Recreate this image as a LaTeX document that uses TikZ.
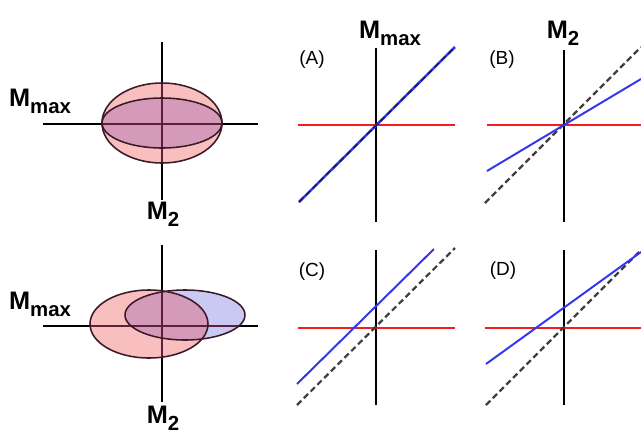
\documentclass[tikz,border=0pt]{standalone}
\usepackage{fontspec}
\setmainfont{Liberation Sans}
\usepackage{tikz}
\usetikzlibrary{positioning}
\definecolor{pinkFill}{HTML}{F9BEBE}
\definecolor{blueFill}{HTML}{C9C9F3}
\definecolor{mauveFill}{HTML}{D59AB9}
\definecolor{axisIn}{HTML}{5E1F3A}
\definecolor{ringStroke}{HTML}{3A1A26}
\definecolor{redLine}{HTML}{F01E1E}
\definecolor{blueLine}{HTML}{3535EE}
\definecolor{navyDash}{HTML}{1A1A5A}
\newcommand{\Msub}[1]{M\raisebox{-5pt}{\fontsize{14.5}{14.5}\selectfont #1}}
\tikzset{
  axis line/.style={black, line width=1.4pt},
  axis inner/.style={axisIn, line width=1.4pt},
  ring/.style={ringStroke, line width=1.1pt},
  red line/.style={redLine, line width=1.4pt},
  blue line/.style={blueLine, line width=1.4pt},
  ref line/.style={black!75, line width=1.6pt, dash pattern=on 4.3pt off 2.5pt},
  axis label/.style={font=\fontsize{18}{18}\selectfont\bfseries, inner sep=0pt},
  panel label/.style={font=\fontsize{13.5}{13.5}\selectfont, inner sep=0pt}
}
\begin{document}
\begin{tikzpicture}[x=0.025cm, y=-0.025cm]
    \useasboundingbox (0,0) rectangle (641,442);

    % Ellipses, top
    \fill[pinkFill] (162,123) ellipse [x radius=60, y radius=40];
    \fill[mauveFill] (162,123) ellipse [x radius=60, y radius=25];
    \draw[axis line] (162,42) -- (162,200);
    \draw[axis line] (43,124) -- (258,124);
    \begin{scope}
      \clip (162,123) ellipse [x radius=60, y radius=40];
      \draw[axis inner] (162,42) -- (162,200);
      \draw[axis inner] (43,124) -- (258,124);
    \end{scope}
    \draw[ring] (162,123) ellipse [x radius=60, y radius=40];
    \draw[ring] (162,123) ellipse [x radius=60, y radius=25];
    \node[axis label] (mmaxA) at (40,101) {\Msub{max}};
    \node[axis label] (m2A) at (163,214) {\Msub{2}};

    % Ellipses, bottom
    \fill[pinkFill] (149,324) ellipse [x radius=59, y radius=34];
    \fill[blueFill] (185,315) ellipse [x radius=60, y radius=25];
    \begin{scope}
      \clip (149,324) ellipse [x radius=59, y radius=34];
      \fill[mauveFill] (185,315) ellipse [x radius=60, y radius=25];
    \end{scope}
    \draw[axis line] (162,245) -- (162,402);
    \draw[axis line] (43,326) -- (258,326);
    \begin{scope}
      \clip (149,324) ellipse [x radius=59, y radius=34];
      \draw[axis inner] (162,245) -- (162,402);
      \draw[axis inner] (43,326) -- (258,326);
    \end{scope}
    \begin{scope}
      \clip (185,315) ellipse [x radius=60, y radius=25];
      \draw[axis inner] (162,245) -- (162,402);
      \draw[axis inner] (43,326) -- (258,326);
    \end{scope}
    \draw[ring] (149,324) ellipse [x radius=59, y radius=34];
    \draw[ring] (185,315) ellipse [x radius=60, y radius=25];
    \node[axis label] (mmaxB) at (40,304) {\Msub{max}};
    \node[axis label] (m2B) at (163,418) {\Msub{2}};

    % Headers
    \node[axis label] (hmax) at (390,33) {\Msub{max}};
    \node[axis label] (h2) at (563,33) {\Msub{2}};

    % (A)
    \node[panel label] (pa) at (312,60) {(A)};
    \draw[axis line] (376,48) -- (376,222);
    \draw[red line] (298,125) -- (455,125);
    \draw[blue line, line width=1.8pt] (299,202) -- (455,47);
    \draw[ref line, navyDash, line width=1pt] (299,202) -- (455,47);

    % (B)
    \node[panel label] (pb) at (502,60) {(B)};
    \draw[axis line] (564,50) -- (564,222);
    \draw[red line] (487,125) -- (641,125);
    \draw[ref line] (485,203) -- (641,47);
    \draw[blue line] (487,171) -- (641,79);

    % (C)
    \node[panel label] (pc) at (312,272) {(C)};
    \draw[axis line] (376,250) -- (376,405);
    \draw[red line] (298,328) -- (455,328);
    \draw[ref line] (297,405) -- (455,248);
    \draw[blue line] (297,384) -- (434,249);

    % (D)
    \node[panel label] (pd) at (503,271) {(D)};
    \draw[axis line] (564,250) -- (564,405);
    \draw[red line] (485,328) -- (641,328);
    \draw[ref line] (486,405) -- (641,250);
    \draw[blue line] (486,364) -- (641,252);
\end{tikzpicture}
\end{document}
